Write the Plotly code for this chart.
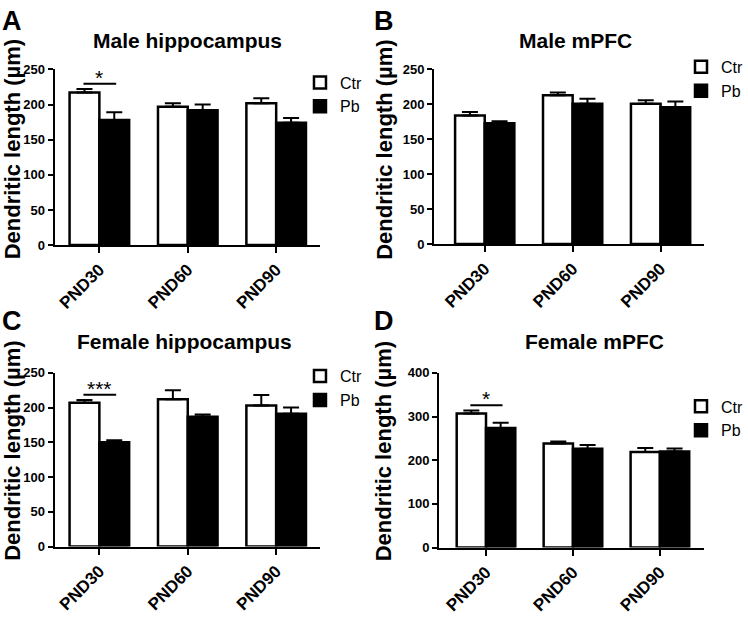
import plotly.graph_objects as go

categories = ["PND30", "PND60", "PND90"]
panel_titles = ["Male hippocampus", "Male mPFC", "Female hippocampus", "Female mPFC"]
panel_letters = ["A", "B", "C", "D"]
ytitle = "Dendritic length (µm)"

ctr_A = [217, 197, 202]
ctr_A_err = [5, 5, 7]
pb_A = [178, 192, 174]
pb_A_err = [11, 8, 7]

ctr_B = [184, 213, 201]
ctr_B_err = [5, 4, 5]
pb_B = [173, 201, 196]
pb_B_err = [3, 7, 8]

ctr_C = [207, 212, 203]
ctr_C_err = [4, 13, 15]
pb_C = [150, 187, 191]
pb_C_err = [3, 3, 9]

ctr_D = [307, 238, 219]
ctr_D_err = [7, 5, 9]
pb_D = [274, 226, 220]
pb_D_err = [12, 9, 7]

y_max = [250, 250, 250, 400]
y_dtick = [50, 50, 50, 100]
sig_labels = ["*", None, "***", "*"]  # significance at PND30

ctr_all = [ctr_A, ctr_B, ctr_C, ctr_D]
ctr_err_all = [ctr_A_err, ctr_B_err, ctr_C_err, ctr_D_err]
pb_all = [pb_A, pb_B, pb_C, pb_D]
pb_err_all = [pb_A_err, pb_B_err, pb_C_err, pb_D_err]

W, H = 748, 617
FONT = "Arial, Liberation Sans, sans-serif"


def px(xp):
    return xp / W


def py(yp):
    return 1 - yp / H


# layout geometry (target pixels in the window)
x_dom_px = [(55, 322), (437, 709), (55, 322), (442, 709)]
y_dom_px = [(64, 244), (64, 243), (375, 553), (375, 554)]
x_ranges = [[-0.506, 2.494], [-0.576, 2.497], [-0.506, 2.494], [-0.54, 2.51]]
legend_pos = [(302, 60), (686, 44), (302, 361), (686, 392)]
title_pos = [(189, 34), (579, 34), (186, 343), (599, 343)]
letter_pos = [(12, 14), (387, 14), (12, 322), (387, 322)]
ytitle_pos = [(13, 146), (387, 146), (13, 455), (387, 455)]

fig = go.Figure()
annotations = []
shapes = []

for i in range(4):
    suf = "" if i == 0 else str(i + 1)
    xa, ya = "x" + suf, "y" + suf
    leg = "legend" + suf
    fig.add_trace(go.Bar(
        x=categories, y=ctr_all[i], name="Ctr", xaxis=xa, yaxis=ya, legend=leg,
        marker=dict(color="white", line=dict(color="black", width=2.5)),
        error_y=dict(type="data", array=ctr_err_all[i], symmetric=False,
                     arrayminus=[0, 0, 0], color="black", thickness=2, width=8),
        offsetgroup="ctr",
    ))
    fig.add_trace(go.Bar(
        x=categories, y=pb_all[i], name="Pb", xaxis=xa, yaxis=ya, legend=leg,
        marker=dict(color="black", line=dict(color="black", width=2.5)),
        error_y=dict(type="data", array=pb_err_all[i], symmetric=False,
                     arrayminus=[0, 0, 0], color="black", thickness=2, width=8),
        offsetgroup="pb",
    ))

    x0, x1 = x_dom_px[i]
    yt, yb = y_dom_px[i]
    fig.layout["xaxis" + suf] = dict(
        domain=[px(x0), px(x1)], anchor=ya, range=x_ranges[i], type="category",
        showline=True, linecolor="black", linewidth=2,
        ticks="outside", ticklen=6, tickwidth=2, tickcolor="black",
        tickangle=-45, showgrid=False, zeroline=False,
        tickfont=dict(family=FONT, size=17, color="black", weight="bold"),
    )
    fig.layout["yaxis" + suf] = dict(
        domain=[py(yb), py(yt)], anchor=xa, range=[0, y_max[i]],
        dtick=y_dtick[i], showline=True, linecolor="black", linewidth=2,
        ticks="outside", ticklen=5, tickwidth=2, tickcolor="black",
        showgrid=False, zeroline=False,
        tickfont=dict(family=FONT, size=13, color="black", weight="bold"),
    )
    lx, ly = legend_pos[i]
    fig.layout[leg] = dict(
        x=px(lx), y=py(ly), xanchor="left", yanchor="top",
        bgcolor="rgba(0,0,0,0)", font=dict(family=FONT, size=16, color="black"),
        itemwidth=30, tracegroupgap=0,
    )

    tx, ty = title_pos[i]
    annotations.append(dict(text="<b>" + panel_titles[i] + "</b>", xref="paper", yref="paper",
                            x=px(tx), y=py(ty), showarrow=False, xanchor="center",
                            yanchor="middle", font=dict(family=FONT, size=21, color="black")))
    lxp, lyp = letter_pos[i]
    annotations.append(dict(text="<b>" + panel_letters[i] + "</b>", xref="paper", yref="paper",
                            x=px(lxp), y=py(lyp), showarrow=False, xanchor="center",
                            yanchor="middle", font=dict(family=FONT, size=27, color="black")))
    yx, yy = ytitle_pos[i]
    annotations.append(dict(text="<b>" + ytitle + "</b>", xref="paper", yref="paper",
                            x=px(yx), y=py(yy), showarrow=False, xanchor="center",
                            yanchor="middle", textangle=-90,
                            font=dict(family=FONT, size=22, color="black")))

    if sig_labels[i]:
        top = max(ctr_all[i][0] + ctr_err_all[i][0], pb_all[i][0] + pb_err_all[i][0])
        ly_val = top + 0.03 * y_max[i]
        shapes.append(dict(type="line", xref=xa, yref=ya, x0=-0.18, x1=0.19,
                           y0=ly_val, y1=ly_val, line=dict(color="black", width=2)))
        annotations.append(dict(text=sig_labels[i], xref=xa, yref=ya, x=0.0, y=ly_val,
                                showarrow=False, yanchor="bottom", yshift=-7,
                                font=dict(family=FONT, size=21, color="black")))

fig.update_layout(
    width=W, height=H, margin=dict(l=0, r=0, t=0, b=0),
    paper_bgcolor="white", plot_bgcolor="white",
    barmode="group", bargap=0.326, bargroupgap=0,
    annotations=annotations, shapes=shapes,
    font=dict(family=FONT, color="black"),
)

fig.write_html("out.html", config={"displayModeBar": False},
               post_script="document.body.style.margin='0';")
